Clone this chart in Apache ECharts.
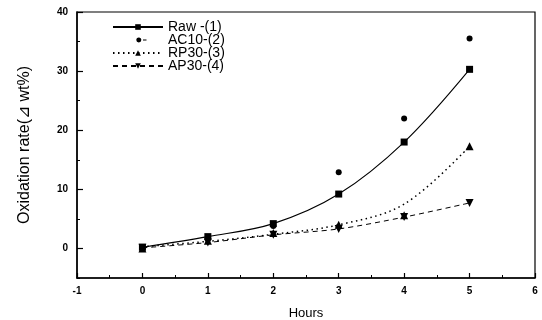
<!DOCTYPE html>
<html>
<head>
<meta charset="utf-8">
<script src="https://cdn.jsdelivr.net/npm/echarts@6/dist/echarts.min.js"></script>
<style>
html, body { margin: 0; padding: 0; background: #fff; }
#chart { width: 542px; height: 320px; }
</style>
</head>
<body>
<div id="chart"></div>
<script>
// Oxidation rate over time for four samples
const hours = [0, 1, 2, 3, 4, 5];
const rawVals = [0.2, 2.0, 4.2, 9.2, 18.0, 30.3];
const ac10Vals = [0.0, 1.7, 3.8, 12.9, 22.0, 35.5];
const rp30Vals = [0.0, 1.3, 2.6, 4.0, 5.6, 17.3];
const rp30Fit = [0.3, 1.2, 2.4, 4.0, 7.5, 17.3];
const ap30Vals = [0.1, 1.0, 2.3, 3.3, 5.3, 7.7];
const yMajorTicks = [0, 10, 20, 30, 40];
const yMinorTicks = [-5, 5, 15, 25, 35];
const seriesNames = ['Raw -(1)', 'AC10-(2)', 'RP30-(3)', 'AP30-(4)'];

const pairs = vals => hours.map((h, i) => [h, vals[i]]);
const FONT = '"Liberation Sans", Arial, sans-serif';

// legend key for the marker-only series: a dot followed by a short dash
const dotDashIcon = 'path://M0,0L0.01,0ZM50,7L50.01,7Z' +
  'M23.3,3.5A2.5,2.5 0 1,1 28.3,3.5A2.5,2.5 0 1,1 23.3,3.5Z' +
  'M30,3L33.5,3L33.5,4L30,4Z';

const chart = echarts.init(document.getElementById('chart'), null, { renderer: 'canvas' });

chart.setOption({
  animation: false,
  backgroundColor: '#fff',
  textStyle: { fontFamily: FONT, color: '#000' },
  grid: {
    left: 77, right: 7, top: 12, bottom: 42,
    containLabel: false, outerBoundsMode: 'none',
    show: true, borderColor: '#000', borderWidth: 1.2
  },
  legend: {
    data: [
      { name: seriesNames[0] },
      { name: seriesNames[1], icon: dotDashIcon },
      { name: seriesNames[2] },
      { name: seriesNames[3] }
    ],
    orient: 'vertical',
    left: 107, top: 15,
    itemWidth: 50, itemHeight: 7, itemGap: -1,
    textStyle: { fontFamily: FONT, fontSize: 14, color: '#000' }
  },
  xAxis: {
    type: 'value',
    min: -1, max: 6, interval: 1,
    name: 'Hours',
    nameLocation: 'middle', nameGap: 29,
    nameTextStyle: { fontFamily: FONT, fontSize: 13, color: '#000' },
    axisLine: { show: true, onZero: false, lineStyle: { color: '#000', width: 1.5 } },
    axisTick: { show: true, inside: true, length: 5, lineStyle: { color: '#000', width: 1.2 } },
    minorTick: { show: true, splitNumber: 2, length: 3, lineStyle: { color: '#000', width: 1 } },
    splitLine: { show: false },
    axisLabel: { fontFamily: FONT, fontSize: 10, fontWeight: 'bold', color: '#000', margin: 8 }
  },
  yAxis: [
    {
      type: 'value',
      min: -5, max: 40,
      name: 'Oxidation rate(\u22BF wt%)',
      nameLocation: 'middle', nameGap: 44, nameRotate: 90,
      nameTextStyle: { fontFamily: FONT, fontSize: 16, color: '#000' },
      axisLine: { show: true, onZero: false, lineStyle: { color: '#000', width: 1.5 } },
      axisTick: { show: true, inside: true, length: 6, customValues: yMajorTicks, lineStyle: { color: '#000', width: 1.2 } },
      axisLabel: { customValues: yMajorTicks, fontFamily: FONT, fontSize: 10, fontWeight: 'bold', color: '#000', margin: 9 },
      splitLine: { show: false }
    },
    {
      type: 'value',
      position: 'left',
      min: -5, max: 40,
      axisLine: { show: false, onZero: false },
      axisTick: { show: true, inside: true, length: 3, customValues: yMinorTicks, lineStyle: { color: '#000', width: 1 } },
      axisLabel: { show: false },
      splitLine: { show: false }
    }
  ],
  series: [
    {
      name: 'Raw -(1)', type: 'line', data: pairs(rawVals),
      smooth: 0.35, symbol: 'rect', symbolSize: 7,
      itemStyle: { color: '#000', opacity: 1 },
      lineStyle: { color: '#000', width: 1.1, type: 'solid' }
    },
    {
      name: 'AC10-(2)', type: 'scatter', data: pairs(ac10Vals),
      symbol: 'circle', symbolSize: 6,
      itemStyle: { color: '#000', opacity: 1 }
    },
    {
      name: 'RP30-(3)', type: 'line', data: pairs(rp30Fit),
      smooth: 0.35, symbol: 'triangle', symbolSize: 8, showSymbol: false,
      itemStyle: { color: '#000', opacity: 1 },
      lineStyle: { color: '#000', width: 1.5, type: [1.5, 3.5] }
    },
    {
      name: 'RP30-(3)', type: 'scatter', data: pairs(rp30Vals),
      symbol: 'triangle', symbolSize: 8,
      itemStyle: { color: '#000', opacity: 1 }
    },
    {
      name: 'AP30-(4)', type: 'line', data: pairs(ap30Vals),
      smooth: 0.3, symbol: 'triangle', symbolRotate: 180, symbolSize: 8,
      itemStyle: { color: '#000', opacity: 1 },
      lineStyle: { color: '#000', width: 1, type: [5, 4] }
    }
  ]
});
</script>
</body>
</html>
